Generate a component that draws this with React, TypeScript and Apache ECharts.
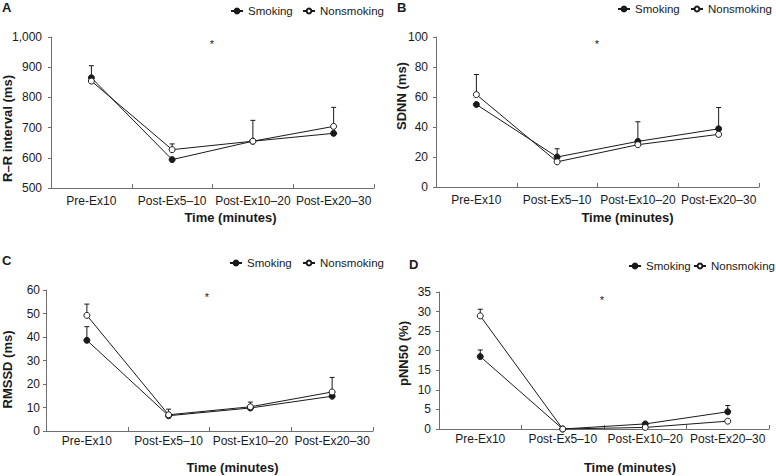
import React, { useEffect, useRef } from "react";
import * as echarts from "echarts";

const categories = ["Pre-Ex10", "Post-Ex5–10", "Post-Ex10–20", "Post-Ex20–30"];

// Panel A: R–R interval (ms)
const rrSmoking = [865, 594, 655, 681];
const rrNonsmoking = [854, 627, 655, 704];
const rrSmokingErrTop = [905, null, 724, null];
const rrNonsmokingErrTop = [null, 646, null, 767];

// Panel B: SDNN (ms)
const sdnnSmoking = [55, 20, 30.4, 38.8];
const sdnnNonsmoking = [61.6, 16.8, 28.2, 35.1];
const sdnnSmokingErrTop = [null, 25.5, 43.5, 53];
const sdnnNonsmokingErrTop = [75, null, null, null];

// Panel C: RMSSD (ms)
const rmssdSmoking = [38.6, 6.5, 9.8, 14.8];
const rmssdNonsmoking = [49.2, 6.9, 10.3, 16.6];
const rmssdSmokingErrTop = [44.4, null, null, null];
const rmssdNonsmokingErrTop = [54, 9.3, 12.3, 22.8];

// Panel D: pNN50 (%)
const pnnSmoking = [18.5, 0, 1.3, 4.4];
const pnnNonsmoking = [28.9, 0, 0.4, 2];
const pnnSmokingErrTop = [20.2, null, null, 6];
const pnnNonsmokingErrTop = [30.6, null, null, null];

const FONT = "'Liberation Sans', Arial, sans-serif";
const INK = "#1a1a1a";
const AXIS = "#6e6e6e";

function errData(values: number[], tops: (number | null)[]) {
  const out: number[][] = [];
  tops.forEach((t, i) => {
    if (t !== null) out.push([i, values[i], t]);
  });
  return out;
}

const renderErr = (params: any, api: any) => {
  const x = api.value(0);
  const p1 = api.coord([x, api.value(1)]);
  const p2 = api.coord([x, api.value(2)]);
  const st = { stroke: INK, lineWidth: 1 };
  return {
    type: "group",
    children: [
      { type: "line", shape: { x1: p1[0], y1: p1[1], x2: p2[0], y2: p2[1] }, style: st },
      { type: "line", shape: { x1: p2[0] - 2.5, y1: p2[1], x2: p2[0] + 2.5, y2: p2[1] }, style: st },
    ],
  };
};

export default function App() {
  const ref = useRef<HTMLDivElement>(null);
  useEffect(() => {
    if (!ref.current) return;
    const chart = echarts.init(ref.current, undefined, { renderer: "svg" });

    const panels = [
      { grid: { left: 51, top: 37, width: 323, height: 151 }, min: 500, max: 1000, interval: 100, yName: "R–R interval (ms)", yGap: 37, yPad: [0, 32, 0, 0], xPad: [0, 0, 0, 36], xGap: 23, xLabMargin: 7, yLabMargin: 9, s: rrSmoking, n: rrNonsmoking, se: rrSmokingErrTop, ne: rrNonsmokingErrTop, fmt: true },
      { grid: { left: 436, top: 37, width: 323, height: 150 }, min: 0, max: 100, interval: 20, yName: "SDNN (ms)", yGap: 28, yPad: [0, 0, 0, 32], xPad: [0, 0, 0, 60], xGap: 24, xLabMargin: 7, yLabMargin: 8, s: sdnnSmoking, n: sdnnNonsmoking, se: sdnnSmokingErrTop, ne: sdnnNonsmokingErrTop, fmt: false },
      { grid: { left: 45, top: 290, width: 328, height: 141 }, min: 0, max: 60, interval: 10, yName: "RMSSD (ms)", yGap: 32, yPad: [0, 18, 0, 0], xPad: [0, 0, 0, 46], xGap: 30, xLabMargin: 4, yLabMargin: 6, s: rmssdSmoking, n: rmssdNonsmoking, se: rmssdSmokingErrTop, ne: rmssdNonsmokingErrTop, fmt: false },
      { grid: { left: 439, top: 292, width: 330, height: 137 }, min: 0, max: 35, interval: 5, yName: "pNN50 (%)", yGap: 29, yPad: [0, 0, 0, 14], xPad: [0, 0, 0, 52], xGap: 32, xLabMargin: 4, yLabMargin: 8, s: pnnSmoking, n: pnnNonsmoking, se: pnnSmokingErrTop, ne: pnnNonsmokingErrTop, fmt: false },
    ];

    const grid = panels.map((p) => ({ ...p.grid, containLabel: false }));
    const xAxis = panels.map((p, i) => ({
      type: "category",
      gridIndex: i,
      data: categories,
      boundaryGap: true,
      name: "Time (minutes)",
      nameLocation: "middle",
      nameGap: p.xGap,
      nameMoveOverlap: false,
      nameTextStyle: { fontFamily: FONT, fontSize: 13, fontWeight: "bold", color: INK, padding: p.xPad, verticalAlign: "top" },
      axisLine: { lineStyle: { color: AXIS, width: 1 } },
      axisTick: { show: true, inside: true, length: 4, alignWithLabel: false, lineStyle: { color: AXIS } },
      axisLabel: { fontFamily: FONT, fontSize: 12, color: INK, margin: p.xLabMargin, interval: 0 },
      splitLine: { show: false },
    }));
    const yAxis = panels.map((p, i) => ({
      type: "value",
      gridIndex: i,
      min: p.min,
      max: p.max,
      interval: p.interval,
      name: p.yName,
      nameLocation: "middle",
      nameRotate: 90,
      nameGap: p.yGap,
      nameMoveOverlap: false,
      nameTextStyle: { fontFamily: FONT, fontSize: 13, fontWeight: "bold", color: INK, padding: p.yPad },
      axisLine: { show: true, lineStyle: { color: AXIS, width: 1 } },
      axisTick: { show: true, inside: false, length: 3, lineStyle: { color: AXIS } },
      axisLabel: {
        fontFamily: FONT,
        fontSize: 12,
        color: INK,
        margin: p.yLabMargin,
        formatter: p.fmt ? (v: number) => v.toLocaleString("en-US") : undefined,
      },
      splitLine: { show: false },
    }));

    const series: any[] = [];
    panels.forEach((p, i) => {
      series.push({
        type: "custom",
        name: "errS" + i,
        xAxisIndex: i,
        yAxisIndex: i,
        renderItem: renderErr,
        data: errData(p.s, p.se),
        z: 1,
      });
      series.push({
        type: "custom",
        name: "errN" + i,
        xAxisIndex: i,
        yAxisIndex: i,
        renderItem: renderErr,
        data: errData(p.n, p.ne),
        z: 1,
      });
      series.push({
        type: "line",
        name: "Smoking",
        xAxisIndex: i,
        yAxisIndex: i,
        data: p.s,
        symbol: "circle",
        symbolSize: 6,
        lineStyle: { color: INK, width: 1 },
        itemStyle: { color: INK, borderColor: INK, borderWidth: 1 },
        z: 3,
      });
      series.push({
        type: "line",
        name: "Nonsmoking",
        xAxisIndex: i,
        yAxisIndex: i,
        data: p.n,
        symbol: "circle",
        symbolSize: 6,
        lineStyle: { color: INK, width: 1 },
        itemStyle: { color: "#ffffff", borderColor: INK, borderWidth: 1 },
        z: 4,
      });
    });

    const legendBase = {
      orient: "horizontal",
      itemWidth: 12,
      itemHeight: 6,
      itemGap: 0,
      padding: 0,
      textStyle: { fontFamily: FONT, fontSize: 11.5, color: INK },
      selectedMode: false,
    };
    // [smoking icon x, nonsmoking icon x, legend top]
    const legendPos = [
      [230, 302, 5],
      [617, 690, 3],
      [229, 302, 257],
      [628, 693, 260],
    ];
    const legend: any[] = [];
    legendPos.forEach(([xs, xn, t]) => {
      legend.push({ ...legendBase, data: ["Smoking"], left: xs, top: t });
      legend.push({ ...legendBase, data: ["Nonsmoking"], left: xn, top: t });
    });

    const titleStyle = { fontFamily: FONT, fontSize: 13, fontWeight: "bold", color: INK };
    const title = [
      { text: "A", left: 2, top: 1, padding: 0, textStyle: titleStyle },
      { text: "B", left: 397, top: 1, padding: 0, textStyle: titleStyle },
      { text: "C", left: 2, top: 254, padding: 0, textStyle: titleStyle },
      { text: "D", left: 409, top: 258, padding: 0, textStyle: titleStyle },
    ];

    const starStyle = { text: "*", fontFamily: FONT, fontSize: 11, fill: INK, align: "center", verticalAlign: "middle" };
    const graphic = [
      { type: "text", x: 212, y: 44, style: starStyle },
      { type: "text", x: 597, y: 44, style: starStyle },
      { type: "text", x: 207, y: 297, style: starStyle },
      { type: "text", x: 602, y: 300, style: starStyle },
    ];

    chart.setOption({
      animation: false,
      backgroundColor: "#ffffff",
      title,
      legend,
      grid,
      xAxis,
      yAxis,
      series,
      graphic,
    });
    return () => chart.dispose();
  }, []);

  return (
    <div
      ref={ref}
      style={{ position: "fixed", left: 0, top: 0, width: 776, height: 476, background: "#fff" }}
    />
  );
}
